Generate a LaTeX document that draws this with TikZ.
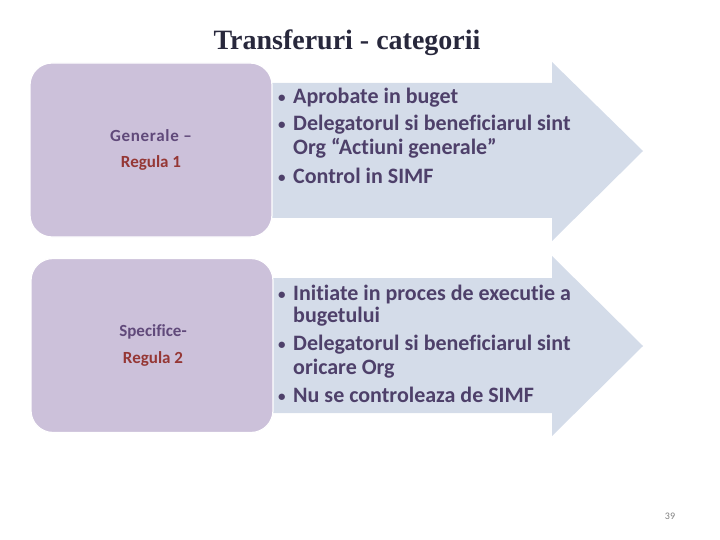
\documentclass[tikz,border=0pt]{standalone}
\usepackage{fontspec}
\setmainfont{Carlito}[RawFeature=-liga]
\newfontfamily\titlefont{Liberation Serif}
\definecolor{boxfill}{RGB}{204,193,218}
\definecolor{arrowfill}{RGB}{212,220,233}
\definecolor{lblpurple}{RGB}{96,73,122}
\definecolor{lblred}{RGB}{149,55,53}
\definecolor{itemtxt}{RGB}{78,64,106}
\definecolor{titletxt}{RGB}{40,40,60}
\newcommand{\blt}{\makebox[15pt][l]{\raisebox{1pt}{\fontsize{15}{15}\selectfont\textbullet}}}
\begin{document}
\begin{tikzpicture}[x=1pt,y=-1pt,
  cat/.style={rounded corners=22pt,fill=boxfill,draw=white,line width=1.2pt,
    minimum width=242pt,minimum height=174pt},
  lbl/.style={anchor=base,font=\fontsize{17}{20}\selectfont\bfseries},
  item/.style={anchor=base west,inner sep=0pt,text=itemtxt,
    font=\fontsize{22}{26}\selectfont\bfseries},
  arr/.style={fill=arrowfill}]
 \useasboundingbox (0,0) rectangle (720,540);
 % title
 \node[anchor=base,text=titletxt,font=\titlefont\fontsize{28}{32}\selectfont\bfseries]
   (title) at (347,50) {Transferuri - categorii};
 % arrows
 \fill[arr] (262,83) -- (552,83) -- (552,62) -- (643,151) -- (552,241) -- (552,218) -- (262,218) -- cycle;
 \fill[arr] (262,278) -- (552,278) -- (552,256) -- (643,346) -- (552,436) -- (552,413) -- (262,413) -- cycle;
 % category boxes
 \node[cat] (gen) at (151,150) {};
 \node[cat] (spec) at (152,345.5) {};
 \node[lbl,text=lblpurple] (genname) at (151,142) {\addfontfeatures{LetterSpace=4}Generale --};
 \node[lbl,text=lblred] (genrule) at (151,168) {Regula 1};
 \node[lbl,text=lblpurple] (specname) at (153,336) {Specifice-};
 \node[lbl,text=lblred] (specrule) at (153,363) {Regula 2};
 % items, first arrow
 \node[item] (g1) at (278,104) {\blt Aprobate in buget};
 \node[item] (g2) at (278,131) {\blt Delegatorul si beneficiarul sint};
 \node[item] (g3) at (293,155) {Org “Actiuni generale”};
 \node[item] (g4) at (278,184) {\blt Control in SIMF};
 % items, second arrow
 \node[item] (s1) at (278,300) {\blt Initiate in proces de executie a};
 \node[item] (s2) at (293,322) {bugetului};
 \node[item] (s3) at (278,350) {\blt Delegatorul si beneficiarul sint};
 \node[item] (s4) at (293,374) {oricare Org};
 \node[item] (s5) at (278,402) {\blt Nu se controleaza de SIMF};
 % page number
 \node[anchor=base,text=gray,font=\fontsize{10}{12}\selectfont] (pg) at (670,519) {39};
\end{tikzpicture}
\end{document}
